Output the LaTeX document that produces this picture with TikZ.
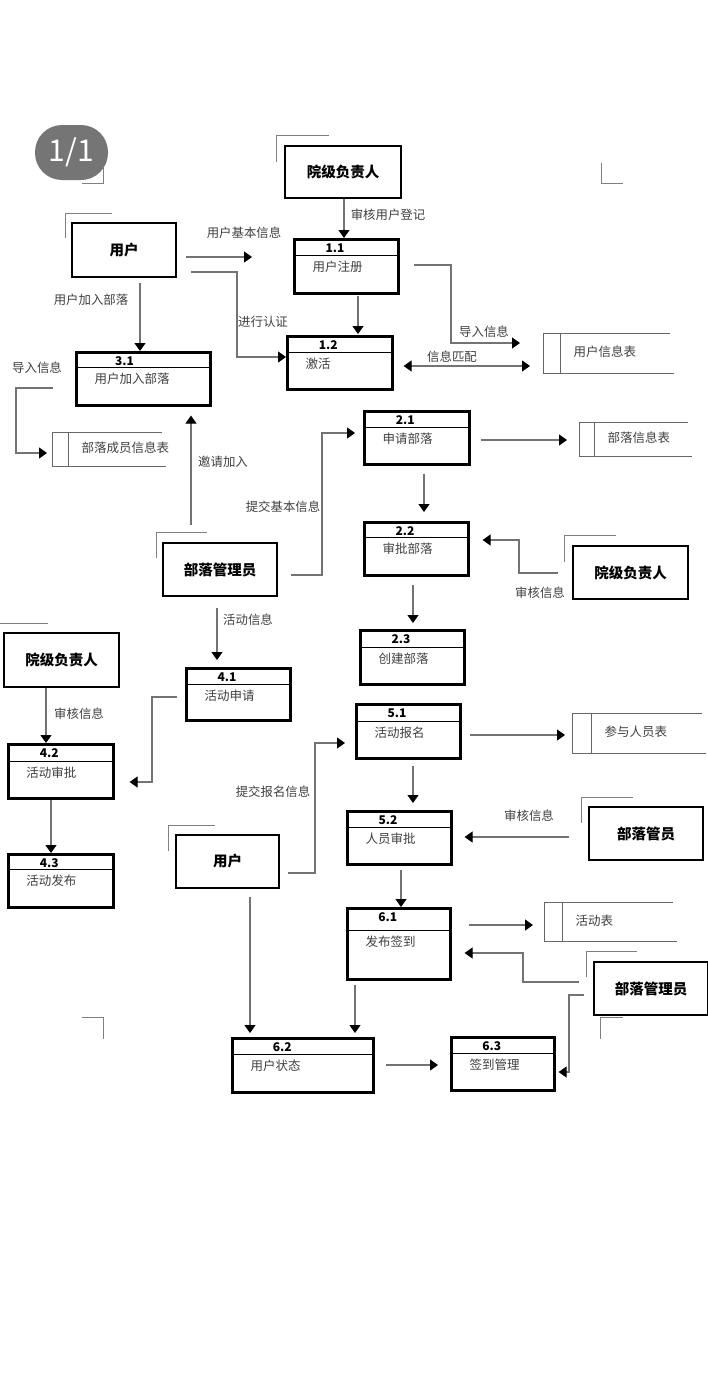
\documentclass[tikz,border=0pt]{standalone}
\usepackage{fontspec}
\newfontfamily\cjk{Noto Sans CJK SC}
\usepackage{tikz}
\usetikzlibrary{arrows.meta}
\usetikzlibrary{calc}
\tikzset{every picture/.style={line width=1pt},
extbox/.style={draw=black,line width=2.6pt,inner sep=0pt,font=\cjk\bfseries\fontsize{14.5}{16}\selectfont},
procbox/.style={draw=black,line width=2.6pt,inner sep=0pt,anchor=north west},
procnum/.style={inner sep=0pt,font=\cjk\bfseries\fontsize{12}{14}\selectfont},
proctxt/.style={inner sep=0pt,anchor=west,text=black!75,font=\cjk\fontsize{12.5}{14}\selectfont},
lbl/.style={inner sep=0pt,text=black!75,font=\cjk\fontsize{12.4}{14}\selectfont},
flow/.style={draw=black!55,line width=1.2pt,->,>={Triangle[width=11pt,length=8pt,color=black]}},
flowboth/.style={flow,<->},
store/.style={draw=black!60,line width=1pt},
crop/.style={draw=black!50,line width=1pt}}

\begin{document}
\begin{tikzpicture}[x=1pt,y=-1pt]
\fill[white] (0,0) rectangle (708,1384);
\useasboundingbox (0,0) rectangle (708,1384);
% corner marks
\draw[crop] (82,183) -- (103,183) -- (103,168);
\draw[crop] (276,162) -- (276,135) -- (329,135);
\draw[crop] (601,163) -- (601,183) -- (623,183);
\draw[crop] (65,238) -- (65,213) -- (112,213);
\draw[crop] (156,558) -- (156,532) -- (207,532);
\draw[crop] (564,562) -- (564,535) -- (616,535);
\draw[crop] (0,623) -- (48,623);
\draw[crop] (168,851) -- (168,825) -- (215,825);
\draw[crop] (581,823) -- (581,797) -- (633,797);
\draw[crop] (586,977) -- (586,951) -- (637,951);
\draw[crop] (600,1039) -- (600,1017) -- (623,1017);
\draw[crop] (82,1017) -- (103,1017) -- (103,1039);
\node[fill=black!54,rounded corners=27pt,minimum width=73,minimum height=55,inner sep=0pt,text=white,font=\cjk\fontsize{30}{32}\selectfont] (pg) at (71.5,152.5) {1/1};

% external entities
\node[extbox,minimum width=116,minimum height=52] (e1) at (343,172) {院级负责人};
\node[extbox,minimum width=104,minimum height=54] (e2) at (124,250) {用户};
\node[extbox,minimum width=114,minimum height=53] (e3) at (220,569.5) {部落管理员};
\node[extbox,minimum width=115,minimum height=53] (e4) at (630.5,572.5) {院级负责人};
\node[extbox,minimum width=115,minimum height=54] (e5) at (61.5,660) {院级负责人};
\node[extbox,minimum width=103,minimum height=53] (e6) at (227.5,861.5) {用户};
\node[extbox,minimum width=114,minimum height=53] (e7) at (646,833.5) {部落管员};
\node[extbox,minimum width=114,minimum height=53] (e8) at (651,988.5) {部落管理员};

% processes
\foreach \n/\x/\y/\w/\h/\hd/\num/\txt in {11/293/238/104/54/17/1.1/用户注册,12/286/335/105/53/17/1.2/激活,31/75/351/134/53/16/3.1/用户加入部落,21/363/410/105/53/17/2.1/申请部落,22/363/521/104/53/16/2.2/审批部落,23/359/629/104/54/18/2.3/创建部落,41/185/667/104/52/17/4.1/活动申请,42/7/743/105/54/18/4.2/活动审批,43/7/853/105/53/16/4.3/活动发布,51/355/703/104/54/18/5.1/活动报名,52/346/810/104/53/17/5.2/人员审批,61/346/907/103/71/23/6.1/发布签到,62/231/1037/141/54/17/6.2/用户状态,63/450/1036/103/53/17/6.3/签到管理}{
\pgfmathsetmacro\nx{\x+42+(\w-104)*0.25}
\node[procbox,minimum width=\w,minimum height=\h] (p\n) at (\x,\y) {};
\draw (\x,\y+\hd) -- (\x+\w,\y+\hd);
\node[procnum] (n\n) at (\nx,\y+10) {\num};
\node[proctxt] (t\n) at (\x+19,\y+\hd+12) {\txt};
}

% data stores
\foreach \n/\x/\y/\h/\in/\w/\txt in {1/543/333/40/17/127/用户信息表,2/52/432/34/16/110/部落成员信息表,3/579/422/34/15/109/部落信息表,4/572/713/40/19/130/参与人员表,5/544/902/39/18/129/活动表}{
\draw[store] (\x+\w,\y) -- (\x,\y) -- (\x,\y+\h) -- (\x+\w+4,\y+\h);
\draw[store] (\x+\in,\y) -- (\x+\in,\y+\h);
\coordinate (s\n) at (\x,\y+\h/2);
\node[proctxt] (st\n) at (\x+\in+13,\y+\h/2-1) {\txt};
}

% flows
\coordinate (f1) at (252,257);
\draw[flow] (e1.south -| 344,0) -- (p11.north -| 344,0);
\draw[flow,shorten <=9pt] (e2.east |- 0,257) -- (f1);
\draw[flow,shorten <=14pt] (e2.east |- 0,272) -| (237,357) -- (p12.west |- 0,357);
\draw[flow,shorten <=5pt] (e2.south -| 140,0) -- (p31.north -| 140,0);
\draw[flow,shorten <=1pt,shorten >=1pt] (p11.south -| 358,0) -- (p12.north -| 358,0);
\draw[flow,shorten <=14pt,shorten >=23pt] (p11.east |- 0,265) -| (451,343) -- (s1 |- 0,343);
\draw[flowboth,shorten <=10pt,shorten >=13pt] (p12.east |- 0,366) -- (s1 |- 0,366);
\draw[flow,shorten <=22pt,shorten >=5pt] (p31.west |- 0,388) -| (16,453) -- (s2 |- 0,453);
\draw[flow,shorten <=17pt,shorten >=9pt] (e3.north -| 191,0) -- (p31.south -| 191,0);
\draw[flow,shorten <=13pt,shorten >=8pt] (e3.east |- 0,575) -| (322,433) -- (p21.west |- 0,433);
\draw[flow,shorten <=11pt,shorten >=7pt] (e3.south -| 217,0) -- (p41.north -| 217,0);
\draw[flow,shorten <=10pt,shorten >=12pt] (p21.east |- 0,440) -- (s3 |- 0,440);
\draw[flow,shorten <=8pt,shorten >=9pt] (p21.south -| 424,0) -- (p22.north -| 424,0);
\draw[flow,shorten <=14pt,shorten >=13pt] (e4.west |- 0,573) -| (519,540) -- (p22.east |- 0,540);
\draw[flow,shorten <=8pt,shorten >=6pt] (p22.south -| 413,0) -- (p23.north -| 413,0);
\draw[flow] (e5.south -| 46,0) -- (p42.north -| 46,0);
\draw[flow,shorten <=8pt,shorten >=15pt] (p41.west |- 0,697) -| (152,782) -- (p42.east |- 0,782);
\draw[flow] (p42.south -| 51,0) -- (p43.north -| 51,0);
\draw[flow,shorten <=8pt,shorten >=10pt] (e6.east |- 0,873) -| (315,743) -- (p51.west |- 0,743);
\draw[flow,shorten <=8pt,shorten >=4pt] (e6.south -| 250,0) -- (p62.north -| 250,0);
\draw[flow,shorten <=8pt,shorten >=7pt] (p51.east |- 0,735) -- (s4 |- 0,735);
\draw[flow,shorten <=6pt,shorten >=7pt] (p51.south -| 413,0) -- (p52.north -| 413,0);
\draw[flow,shorten <=19pt,shorten >=12pt] (e7.west |- 0,837) -- (p52.east |- 0,837);
\draw[flow,shorten <=4pt] (p52.south -| 401,0) -- (p61.north -| 401,0);
\draw[flow,shorten <=17pt,shorten >=11pt] (p61.east |- 0,925) -- (s5 |- 0,925);
\draw[flow,shorten <=14pt,shorten >=13pt] (e8.west |- 0,982) -| (523,953) -- (p61.east |- 0,953);
\draw[flow,shorten <=9pt,shorten >=3pt] (e8.west |- 0,995) -| (569,1072) -- (p63.east |- 0,1072);
\draw[flow,shorten <=4pt,shorten >=4pt] (p61.south -| 355,0) -- (p62.north -| 355,0);
\draw[flow,shorten <=11pt,shorten >=12pt] (p62.east |- 0,1065) -- (p63.west |- 0,1065);

% flow labels
\foreach \n/\x/\y/\t in {1/244/233/用户基本信息,2/263/322/进行认证,3/91/300/用户加入部落,4/388/215/审核用户登记,5/484/332/导入信息,6/452/357/信息匹配,7/37/368/导入信息,8/223/462/邀请加入,9/283/507/提交基本信息,10/248/620/活动信息,11/540/593/审核信息,12/79/714/审核信息,13/273/792/提交报名信息,14/529/816/审核信息}{
\node[lbl] (l\n) at (\x,\y) {\t};
}
\end{tikzpicture}
\end{document}
